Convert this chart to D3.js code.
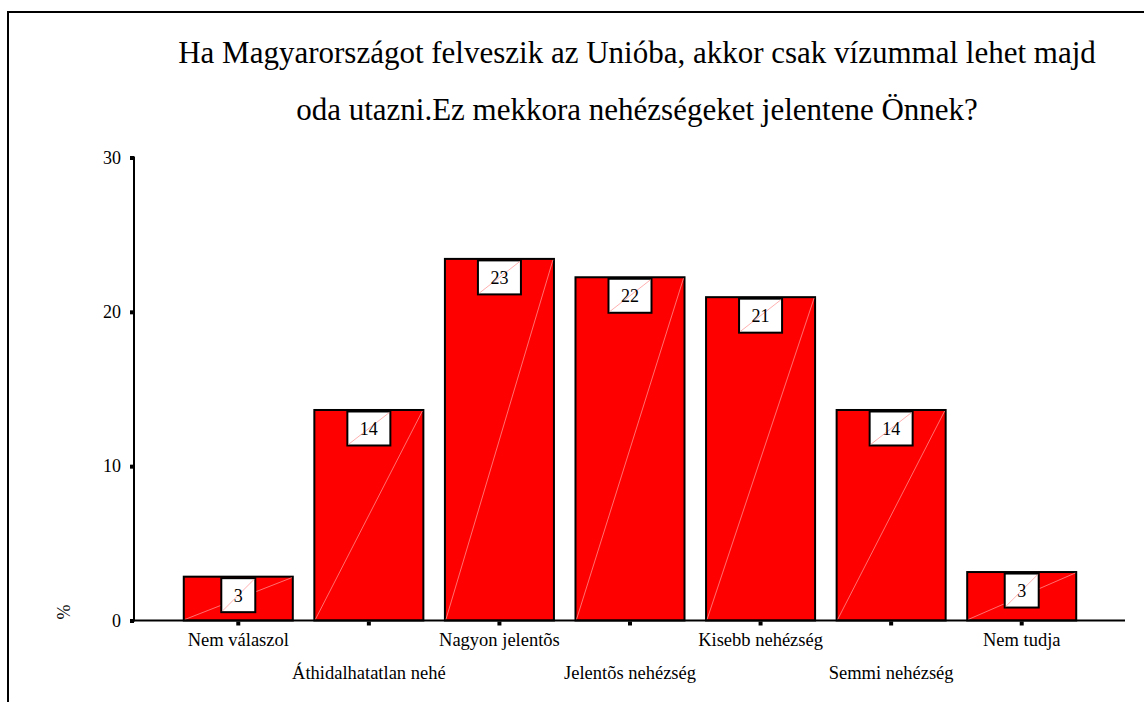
<!DOCTYPE html>
<html>
<head>
<meta charset="utf-8">
<script src="https://cdn.jsdelivr.net/npm/d3@7"></script>
<style>
  html, body { margin: 0; padding: 0; background: #fff; }
  svg { display: block; }
  svg text { font-family: "Liberation Serif", "Times New Roman", Tinos, "DejaVu Serif", serif; fill: #000; }
</style>
</head>
<body>
<svg id="chart" width="1144" height="702"></svg>
<script>
// Survey answers (percent of respondents)
const categories = [
  "Nem válaszol",
  "Áthidalhatatlan nehé",
  "Nagyon jelentõs",
  "Jelentõs nehézség",
  "Kisebb nehézség",
  "Semmi nehézség",
  "Nem tudja"
];
const percentValues = [2.84, 13.64, 23.43, 22.24, 20.95, 13.64, 3.14];
const yTickValues = [0, 10, 20, 30];
const titleLines = [
  "Ha Magyarországot felveszik az Unióba, akkor csak vízummal lehet majd",
  "oda utazni.Ez mekkora nehézségeket jelentene Önnek?"
];
const yAxisLabel = "%";

const W = 1144, H = 702;
const plot = { left: 134, right: 1125, top: 157.5, bottom: 620.5 };
const serif = '"Liberation Serif", "Times New Roman", Tinos, "DejaVu Serif", serif';

const svg = d3.select("#chart");

// outer frame (left and top edges only)
svg.append("path")
  .attr("d", `M8,${H} V12 H${W}`)
  .attr("fill", "none")
  .attr("stroke", "#000")
  .attr("stroke-width", 2);

// title
svg.append("g").selectAll("text")
  .data(titleLines)
  .join("text")
  .attr("x", 637)
  .attr("y", (d, i) => 63 + i * 57)
  .attr("text-anchor", "middle")
  .attr("font-size", 31)
  .style("font-family", serif)
  .text(d => d);

const x = d3.scaleBand()
  .domain(categories)
  .range([173, 1087])
  .paddingInner(0.165)
  .paddingOuter(0.0825);

const y = d3.scaleLinear()
  .domain([0, 30])
  .range([plot.bottom, plot.top]);

const data = categories.map((c, i) => ({ cat: c, value: percentValues[i] }));

// bars
const bars = svg.append("g").selectAll("g")
  .data(data)
  .join("g");

bars.append("rect")
  .attr("x", d => x(d.cat))
  .attr("y", d => y(d.value))
  .attr("width", x.bandwidth())
  .attr("height", d => y(0) - y(d.value))
  .attr("fill", "#ff0000")
  .attr("stroke", "#000")
  .attr("stroke-width", 2);

// faint diagonal rendering seam across each bar
bars.append("line")
  .attr("x1", d => x(d.cat) + 1)
  .attr("y1", y(0) - 1)
  .attr("x2", d => x(d.cat) + x.bandwidth() - 1)
  .attr("y2", d => y(d.value) + 1)
  .attr("stroke", "#ff8c8c")
  .attr("stroke-width", 0.8);

// value boxes
const fmt = d3.format(".0f");
bars.each(function(d) {
  const g = d3.select(this);
  const cx = x(d.cat) + x.bandwidth() / 2;
  const top = y(d.value) + 1.5;
  const box = g.append("rect").attr("fill", "#fff").attr("stroke", "#000").attr("stroke-width", 2);
  const diag = g.append("line").attr("stroke", "#ff9c9c").attr("stroke-width", 0.8);
  const t = g.append("text")
    .attr("x", cx)
    .attr("y", top + 23.5)
    .attr("text-anchor", "middle")
    .attr("font-size", 18)
    .style("font-family", serif)
    .text(fmt(d.value));
  const w = t.node().getComputedTextLength() + 25;
  const h = 34;
  box.attr("x", cx - w / 2).attr("y", top).attr("width", w).attr("height", h);
  diag.attr("x1", cx - w / 2 + 1).attr("y1", top + h - 1)
      .attr("x2", cx + w / 2 - 1).attr("y2", top + 1);
  t.raise();
});

// y axis
const yAxis = svg.append("g")
  .attr("transform", `translate(${plot.left},0)`)
  .call(d3.axisLeft(y).tickValues(yTickValues).tickSizeInner(4).tickSizeOuter(0).tickPadding(9));
yAxis.attr("font-family", null).attr("font-size", null);
yAxis.select(".domain").attr("stroke-width", 2).attr("d", `M0,${plot.top - 1}V${plot.bottom + 1}`);
yAxis.selectAll(".tick line").attr("stroke-width", 4);
yAxis.selectAll(".tick text")
  .style("font-family", serif)
  .attr("font-size", 18);

// x axis baseline
svg.append("line")
  .attr("x1", plot.left - 1).attr("x2", plot.right)
  .attr("y1", plot.bottom).attr("y2", plot.bottom)
  .attr("stroke", "#000").attr("stroke-width", 2);

const xAxis = svg.append("g")
  .attr("transform", `translate(0,${plot.bottom})`)
  .call(d3.axisBottom(x).tickSizeInner(5).tickSizeOuter(0).tickPadding(0));
xAxis.attr("font-family", null).attr("font-size", null);
xAxis.select(".domain").remove();
xAxis.selectAll(".tick line").attr("stroke-width", 4).attr("y1", 1);
xAxis.selectAll(".tick text")
  .style("font-family", serif)
  .attr("font-size", 18.5)
  .attr("dy", null)
  .attr("y", (d, i) => i % 2 === 0 ? 25.5 : 58.5);

// y axis title
svg.append("text")
  .attr("transform", "translate(70,612) rotate(-90)")
  .attr("text-anchor", "middle")
  .attr("font-size", 18)
  .style("font-family", serif)
  .text(yAxisLabel);
</script>
</body>
</html>
